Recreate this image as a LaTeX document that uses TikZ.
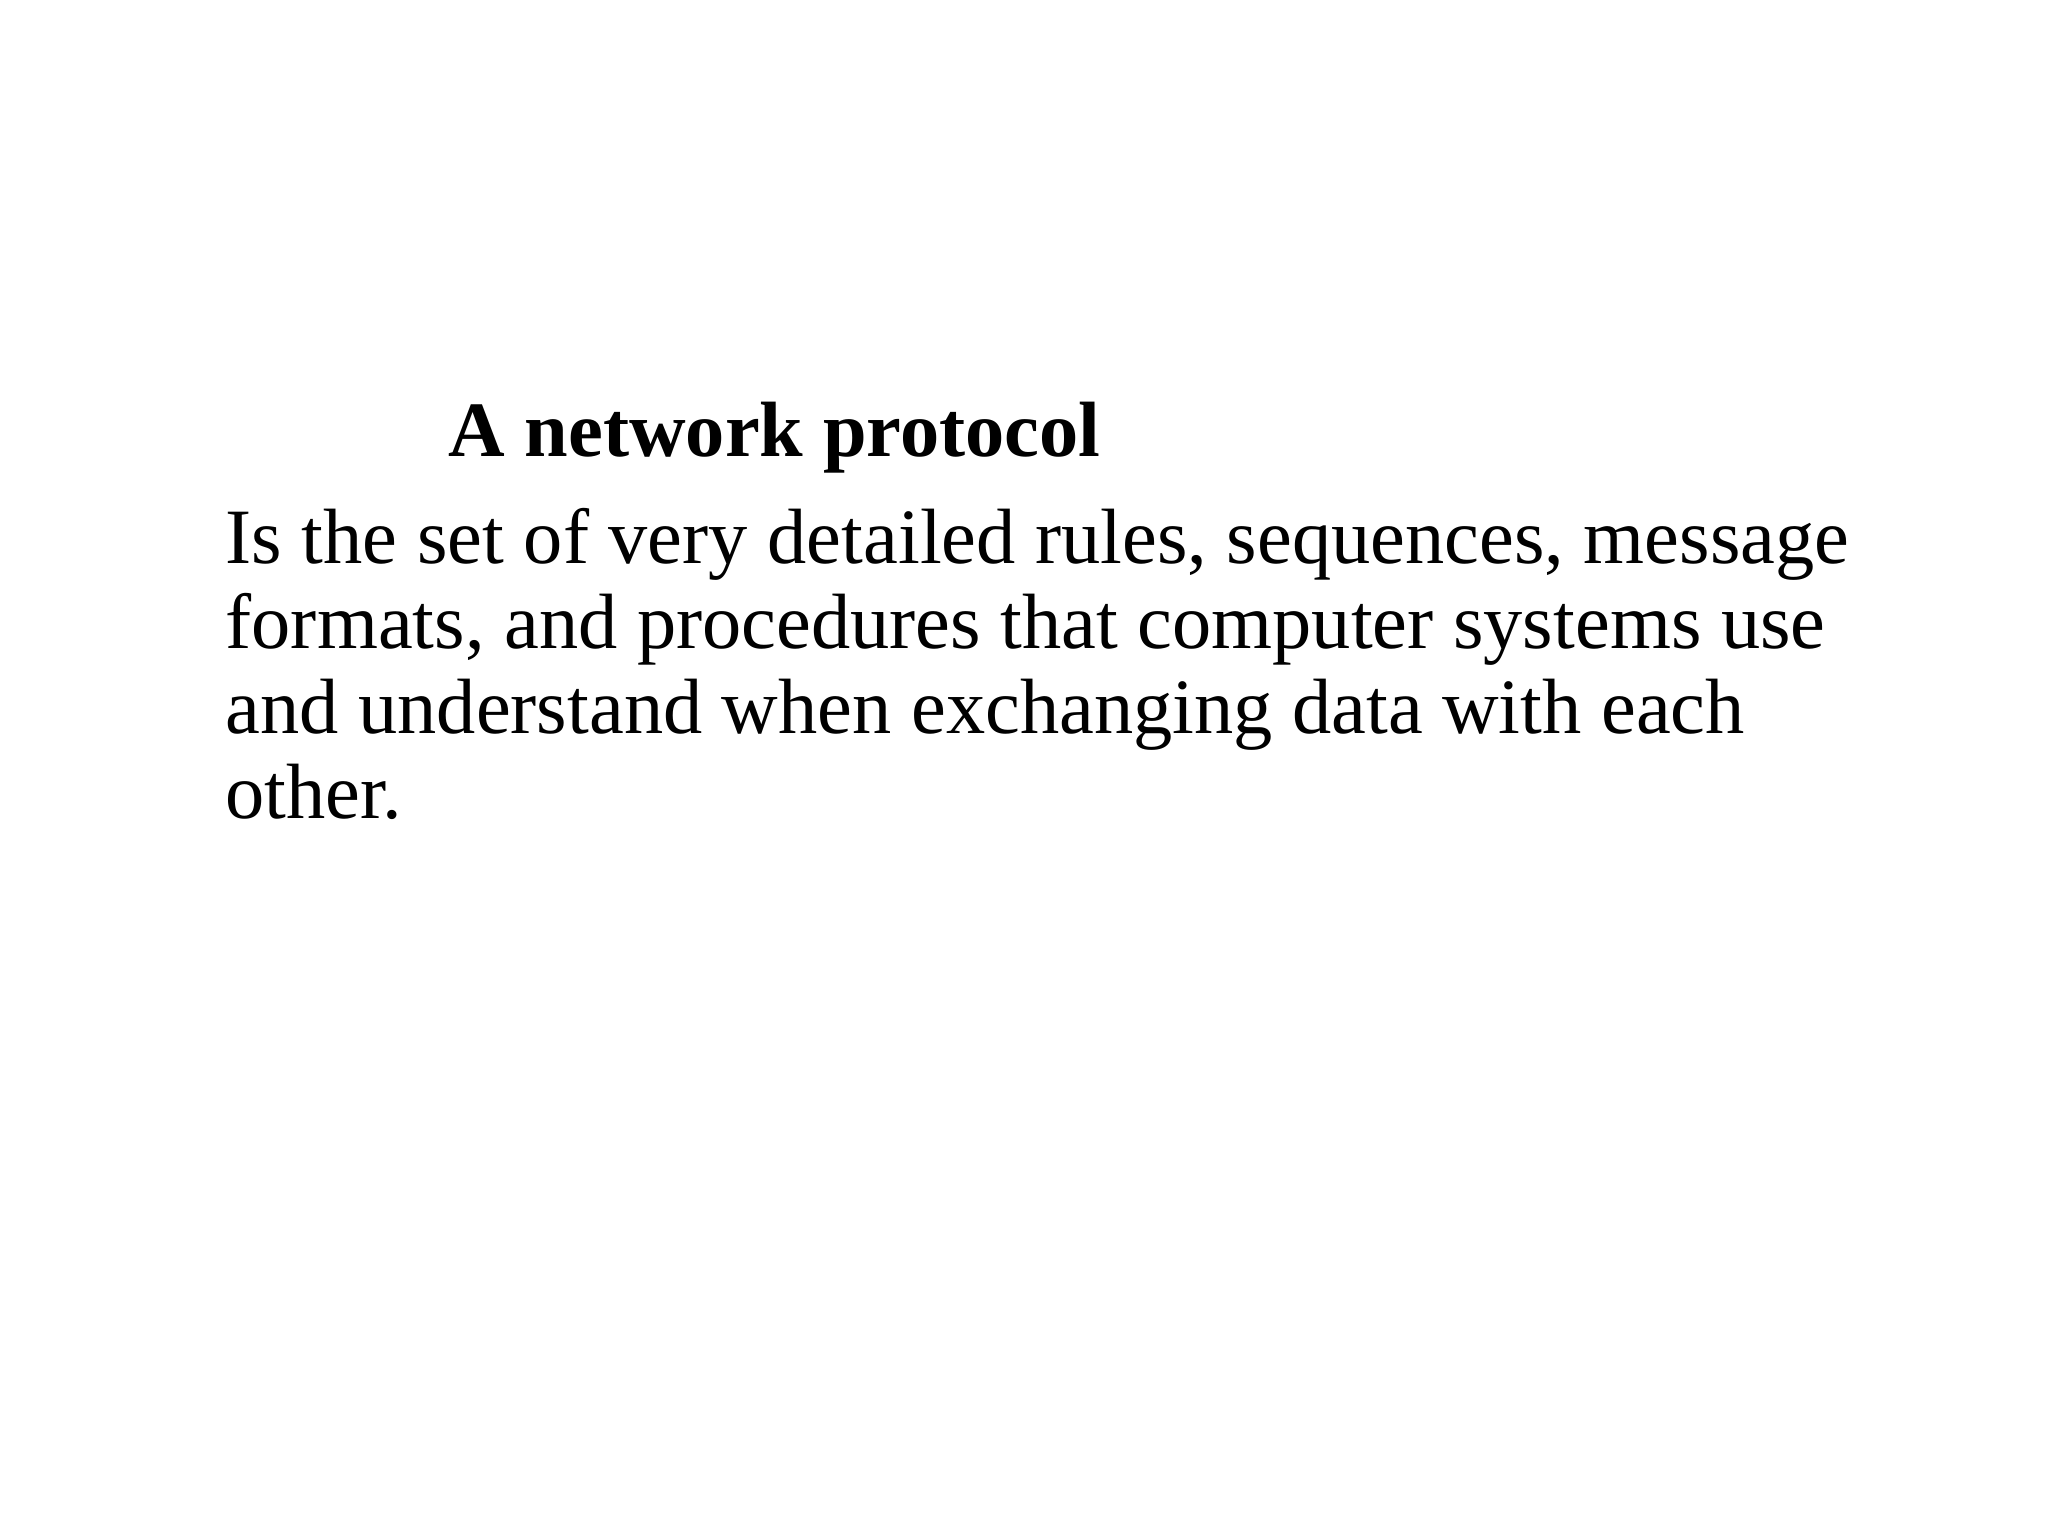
\documentclass[tikz,border=0pt]{standalone}
\usepackage{fontspec}
\setmainfont{Liberation Serif}
\begin{document}
\begin{tikzpicture}[x=1cm,y=1cm,
  txt/.style={anchor=base west,inner sep=0pt,font=\fontsize{22.3pt}{26pt}\selectfont}]
\useasboundingbox (0,0) rectangle (20.48,15.36);
\node[txt,font=\fontsize{22.3pt}{26pt}\selectfont\bfseries] (title) at (4.48,10.79) {A network protocol};
\node[txt] (l1) at (2.25,9.72) {Is the set of very detailed rules, sequences, message};
\node[txt] (l2) at (2.25,8.87) {formats, and procedures that computer systems use};
\node[txt] (l3) at (2.25,8.02) {and understand when exchanging data with each};
\node[txt] (l4) at (2.25,7.17) {other.};
\end{tikzpicture}
\end{document}
